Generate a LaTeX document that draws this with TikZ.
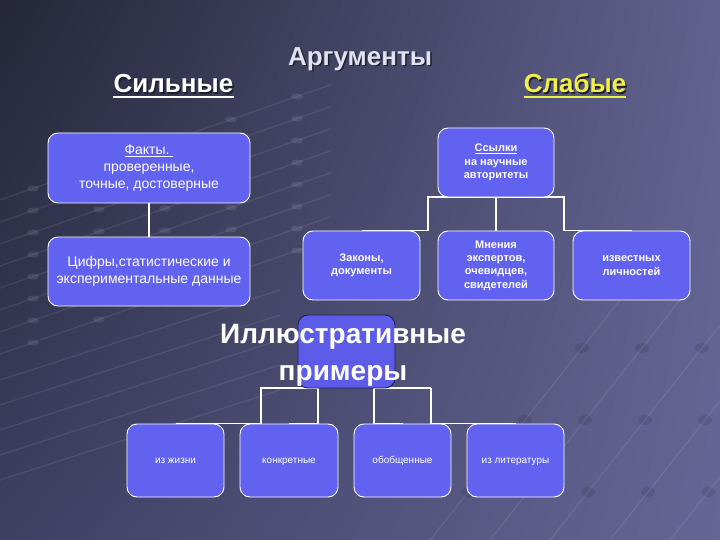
\documentclass[tikz,border=0pt]{standalone}
\usepackage{fontspec}
\setmainfont{Liberation Sans}
\usetikzlibrary{calc,shadings}
\pgfdeclarelayer{bg}\pgfdeclarelayer{lines}
\pgfsetlayers{bg,lines,main}
\definecolor{boxfill}{RGB}{98,98,240}
\definecolor{illfill}{RGB}{92,92,232}
\definecolor{illborder}{RGB}{30,30,90}
\definecolor{titlecol}{RGB}{226,226,242}
\definecolor{weakcol}{RGB}{240,240,70}
\definecolor{shadowcol}{RGB}{30,30,45}
\definecolor{bgul}{RGB}{36,38,56}
\definecolor{bgur}{RGB}{96,98,142}
\definecolor{bgll}{RGB}{62,64,98}
\definecolor{bglr}{RGB}{102,102,150}
\tikzset{
  box/.style={draw=white, line width=0.9pt, fill=boxfill, rounded corners=10pt, align=center, text=white, inner sep=2pt},
  smalltxt/.style={font=\fontsize{14}{17}\selectfont},
  boldtxt/.style={font=\bfseries\fontsize{11}{13.3}\selectfont},
  tinytxt/.style={font=\fontsize{10}{12}\selectfont, text height=7pt, text depth=2pt},
  conn/.style={draw=white, line width=1.6pt},
  bigtitle/.style={font=\bfseries\fontsize{26}{30}\selectfont, inner sep=0pt},
}
\begin{document}
\begin{tikzpicture}[x=1pt,y=-1pt]
\useasboundingbox (0,0) rectangle (720,540);
\begin{pgfonlayer}{bg}
\shade[upper left=bgul, upper right=bgur, lower left=bgll, lower right=bglr]
  (0,0) rectangle (720,540);
% faint decorative dotted lines
\begin{scope}[draw=white, opacity=0.09, line width=1.2pt]
  \foreach \k in {0,...,7} {
    \draw (0,{200+22*\k}) -- (330,{85+22*\k});
    \foreach \t in {0.1,0.3,0.5,0.7,0.9}
      \fill[white] ($(0,{200+22*\k})!\t!(330,{85+22*\k})$) ellipse (6pt and 3pt);
  }
  \foreach \k in {0,...,4} {
    \draw (0,{380+25*\k}) -- (280,{290+25*\k});
  }
  \foreach \k in {0,...,4} {
    \draw ({430+60*\k},540) -- ({620+60*\k},300);
    \foreach \t in {0.2,0.5,0.8}
      \fill[black] ($({430+60*\k},540)!\t!({620+60*\k},300)$) ellipse (7pt and 5pt);
  }
\end{scope}
\end{pgfonlayer}

% titles
\node[bigtitle, text=shadowcol] at (361.5,60.5) {Аргументы};
\node[bigtitle, text=titlecol] (arg) at (360,59) {Аргументы};
\node[bigtitle, text=shadowcol, anchor=base] at (175,94.5) {Сильные};
\node[bigtitle, text=white, anchor=base] (sil) at (173.5,93) {Сильные};
\draw[white, line width=2pt] ($(sil.base west)+(0,4)$) -- ($(sil.base east)+(0,4)$);
\node[bigtitle, text=shadowcol, anchor=base] at (576.5,94.5) {Слабые};
\node[bigtitle, text=weakcol, anchor=base] (sla) at (575,93) {Слабые};
\draw[weakcol, line width=2pt] ($(sla.base west)+(0,4)$) -- ($(sla.base east)+(0,4)$);

% strong side
\node[box, smalltxt, minimum width=202pt, minimum height=70pt] (fakty) at (149,168)
  {\underline{Факты.~}\\проверенные,\\точные, достоверные};
\node[box, smalltxt, minimum width=202pt, minimum height=69pt] (cifry) at (149,271.5)
  {Цифры,статистические и\\экспериментальные данные};

% weak side
\node[box, boldtxt, minimum width=116pt, minimum height=69pt] (ssylki) at (496,162.5)
  {\underline{Ссылки}\\на научные\\авторитеты};
\node[box, boldtxt, minimum width=117pt, minimum height=69pt] (zakony) at (361.5,265.5)
  {Законы,\\документы};
\node[box, boldtxt, minimum width=116pt, minimum height=69pt] (mneniya) at (496,265.5)
  {Мнения\\экспертов,\\очевидцев,\\свидетелей};
\node[box, boldtxt, minimum width=117pt, minimum height=69pt] (izvest) at (631.5,265.5)
  {известных\\личностей};

% illustrative
\node[draw=illborder, line width=0.9pt, fill=illfill, rounded corners=10pt,
      minimum width=97pt, minimum height=73pt] (illbox) at (346.5,351.5) {};
\node[font=\bfseries\fontsize{28}{37}\selectfont, text=white, align=center, inner sep=0pt] (illtext) at (343,355)
  {Иллюстративные\\примеры};

\node[box, tinytxt, minimum width=97pt, minimum height=73pt] (zhizni) at (175.5,460.5) {из жизни};
\node[box, tinytxt, minimum width=98pt, minimum height=73pt] (konkr) at (289,460.5) {конкретные};
\node[box, tinytxt, minimum width=97pt, minimum height=73pt] (obob) at (402.5,460.5) {обобщенные};
\node[box, tinytxt, minimum width=97pt, minimum height=73pt] (liter) at (515.5,460.5) {из литературы};

% connectors
\coordinate (sl) at (428,197);
\coordinate (sr) at (564,197);
\coordinate (b1) at (261,388);
\coordinate (b2) at (318,388);
\coordinate (b3) at (374,388);
\coordinate (b4) at (431,388);
\begin{pgfonlayer}{lines}
\draw[conn] (fakty.south) -- (cifry.north);
\draw[conn] (ssylki.south) -- (mneniya.north);
\draw[conn] (zakony.north) -| (sl) -- (sr) |- (izvest.north);
\draw[conn] (zhizni.north) -| (b1) -- (b2);
\draw[conn] (konkr.north) -| (b2);
\draw[conn] (obob.north) -| (b3) -- (b4);
\draw[conn] (liter.north) -| (b4);
\end{pgfonlayer}
\end{tikzpicture}
\end{document}
